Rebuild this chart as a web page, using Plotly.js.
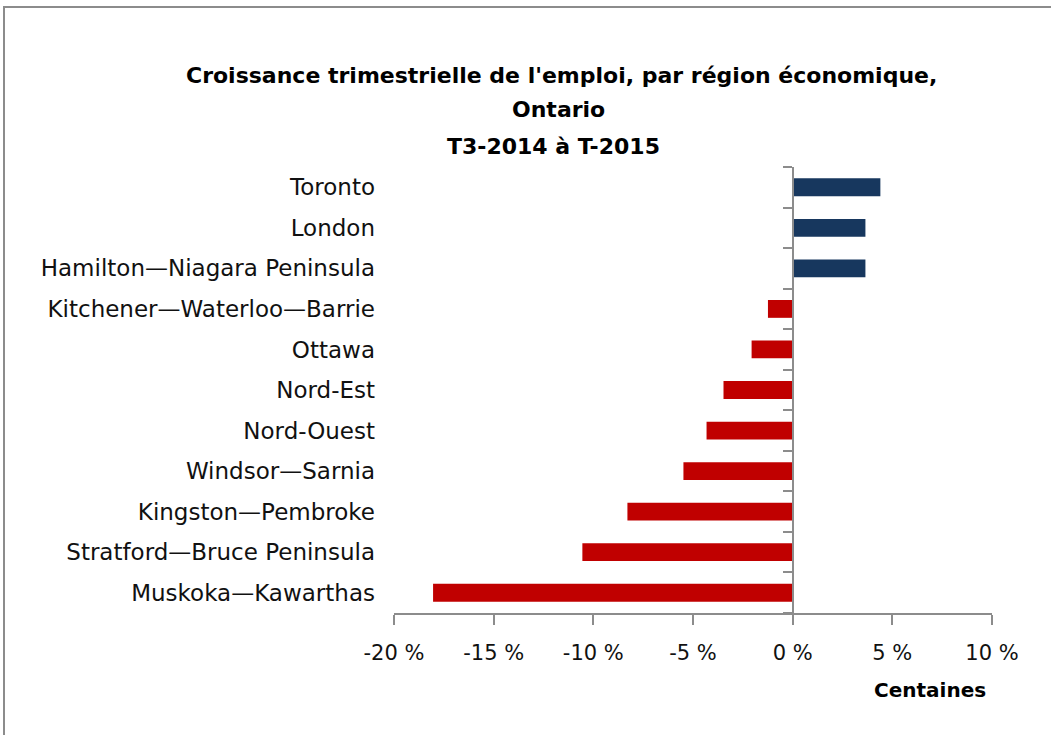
<!DOCTYPE html>
<html>
<head>
<meta charset="utf-8">
<script src="https://cdn.plot.ly/plotly-3.0.1.min.js"></script>
<style>
  html, body { margin: 0; padding: 0; background: #fff; }
  #chart { width: 1051px; height: 735px; }
</style>
</head>
<body>
<div id="chart"></div>
<script>
// Data (top to bottom as shown)
const regions = [
  "Toronto",
  "London",
  "Hamilton—Niagara Peninsula",
  "Kitchener—Waterloo—Barrie",
  "Ottawa",
  "Nord-Est",
  "Nord-Ouest",
  "Windsor—Sarnia",
  "Kingston—Pembroke",
  "Stratford—Bruce Peninsula",
  "Muskoka—Kawarthas"
];
const growth = [4.4, 3.65, 3.65, -1.24, -2.06, -3.47, -4.32, -5.48, -8.29, -10.55, -18.04];

const xTickVals = [-20, -15, -10, -5, 0, 5, 10];
const xTickText = ["-20 %", "-15 %", "-10 %", "-5 %", "0 %", "5 %", "10 %"];

const titleLines = [
  "Croissance trimestrielle de l'emploi, par région économique,",
  "Ontario",
  "T3-2014 à T-2015"
];
const xNote = "Centaines";

const barColors = growth.map(v => v >= 0 ? "#17375E" : "#C00000");

const W = 1051, H = 735;
const L = 394, R = 59, T = 167, B = 122;
const pw = W - L - R, ph = H - T - B;
const px = p => (p - L) / pw;
const py = p => (H - B - p) / ph;

const boundaries = [];
for (let i = 0; i <= regions.length; i++) boundaries.push(i - 0.5);

const barTrace = {
  type: "bar",
  orientation: "h",
  y: regions,
  x: growth,
  marker: { color: barColors },
  width: 0.44,
  hoverinfo: "x+y"
};
// empty helper trace so the category-boundary axis at 0 is drawn
const axisTrace = { type: "scatter", x: [], y: [], yaxis: "y2", hoverinfo: "skip", showlegend: false };

const axisGray = "#8C8C8C";
const labelFont = "DejaVu Sans, sans-serif";
const boldFont = "DejaVu Sans, sans-serif";

const layout = {
  width: W, height: H,
  margin: { l: L, r: R, t: T, b: B, pad: 0 },
  paper_bgcolor: "#fff",
  plot_bgcolor: "#fff",
  showlegend: false,
  font: { family: labelFont, color: "#111" },
  xaxis: {
    range: [-20, 10],
    tickvals: xTickVals,
    ticktext: xTickText,
    showgrid: false,
    zeroline: false,
    showline: true,
    linecolor: axisGray,
    linewidth: 2,
    ticks: "outside",
    ticklen: 10,
    tickwidth: 2,
    tickcolor: axisGray,
    ticklabelstandoff: 10,
    tickfont: { family: labelFont, size: 21, color: "#111" },
    fixedrange: true
  },
  yaxis: {
    type: "category",
    categoryorder: "array",
    categoryarray: regions,
    range: [10.5, -0.5],
    showgrid: false,
    zeroline: false,
    showline: false,
    ticks: "",
    ticklabelstandoff: 18,
    tickfont: { family: labelFont, size: 23, color: "#111" },
    fixedrange: true
  },
  yaxis2: {
    overlaying: "y",
    anchor: "free",
    position: 2 / 3,
    side: "left",
    range: [10.5, -0.5],
    tickvals: boundaries,
    showticklabels: false,
    showgrid: false,
    zeroline: false,
    showline: true,
    linecolor: axisGray,
    linewidth: 2,
    ticks: "outside",
    ticklen: 9,
    tickwidth: 2,
    tickcolor: axisGray,
    fixedrange: true
  },
  annotations: [
    { text: "<b>" + titleLines[0] + "</b>", xref: "paper", yref: "paper", x: px(561), y: py(75), xanchor: "center", yanchor: "middle", showarrow: false, font: { family: boldFont, size: 22, color: "#000" } },
    { text: "<b>" + titleLines[1] + "</b>", xref: "paper", yref: "paper", x: px(558), y: py(110), xanchor: "center", yanchor: "middle", showarrow: false, font: { family: boldFont, size: 22, color: "#000" } },
    { text: "<b>" + titleLines[2] + "</b>", xref: "paper", yref: "paper", x: px(553), y: py(146), xanchor: "center", yanchor: "middle", showarrow: false, font: { family: boldFont, size: 22, color: "#000" } },
    { text: "<b>" + xNote + "</b>", xref: "paper", yref: "paper", x: px(930), y: py(690), xanchor: "center", yanchor: "middle", showarrow: false, font: { family: boldFont, size: 20, color: "#000" } }
  ],
  shapes: [
    { type: "rect", xref: "paper", yref: "paper", x0: px(4), x1: px(1070), y0: py(760), y1: py(7), line: { color: "#8C8C8C", width: 2 }, fillcolor: "rgba(0,0,0,0)", layer: "below" }
  ]
};

Plotly.newPlot("chart", [barTrace, axisTrace], layout, { displayModeBar: false, staticPlot: true });
</script>
</body>
</html>
